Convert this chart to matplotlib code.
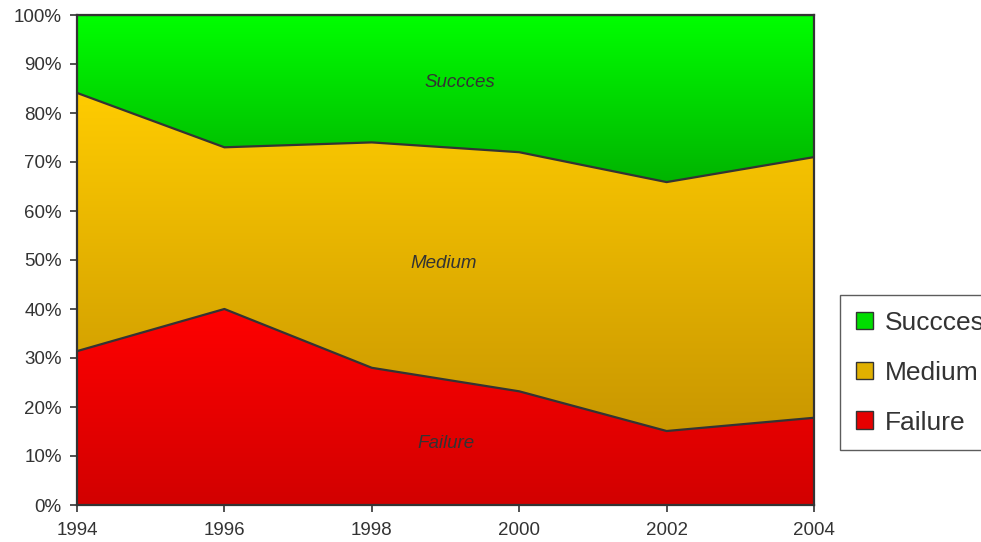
import numpy as np
import matplotlib
matplotlib.use("Agg")
import matplotlib.pyplot as plt
from matplotlib.colors import LinearSegmentedColormap
from matplotlib.patches import Patch

plt.rcParams['font.family'] = ['Liberation Sans', 'DejaVu Sans']

years = [1994, 1996, 1998, 2000, 2002, 2004]
failure = [31.4, 40.0, 28.0, 23.2, 15.1, 17.8]
medium = [52.7, 33.0, 46.0, 48.8, 50.8, 53.2]
success = [15.9, 27.0, 26.0, 28.0, 34.1, 29.0]

series_names = ["Failure", "Medium", "Succces"]
top_colors = ["#ff0000", "#ffcc00", "#00ff00"]
bottom_colors = ["#d20000", "#c99700", "#00b400"]
label_pos = [(1999.0, 12.5), (1998.98, 49.3), (1999.2, 86.3)]

ink = "#333333"

fig = plt.figure(figsize=(9.81, 5.42), dpi=100)
ax = fig.add_axes([77 / 981, 37 / 542, 737 / 981, 490 / 542])

x = np.array(years, dtype=float)
layers = [np.array(failure), np.array(medium), np.array(success)]
base = np.zeros_like(x)
for vals, name, ctop, cbot, (lx, ly) in zip(layers, series_names, top_colors,
                                             bottom_colors, label_pos):
    top = base + vals
    poly = ax.fill_between(x, base, top, facecolor="none", edgecolor="none")
    cmap = LinearSegmentedColormap.from_list(name, [cbot, ctop])
    ylo, yhi = base.min(), top.max()
    grad = np.linspace(0, 1, 256).reshape(-1, 1)
    im = ax.imshow(grad, cmap=cmap, aspect="auto", origin="lower",
                   extent=[x.min(), x.max(), ylo, yhi], zorder=1,
                   interpolation="bilinear")
    im.set_clip_path(poly.get_paths()[0], transform=ax.transData)
    ax.plot(x, top, color=ink, lw=1.6, zorder=3)
    ax.text(lx, ly, name, ha="center", va="center", fontsize=13.5,
            style="italic", color=ink, zorder=4)
    base = top

ax.set_xlim(1994, 2004)
ax.set_ylim(0, 100)
ax.set_xticks(years)
ax.set_yticks(np.arange(0, 101, 10))
ax.set_yticklabels([f"{v}%" for v in range(0, 101, 10)])
ax.tick_params(direction="out", length=5, width=1.2, colors=ink,
               labelsize=13.5, labelcolor=ink)
ax.tick_params(axis="x", pad=7)
ax.tick_params(axis="y", pad=6)
for sp in ax.spines.values():
    sp.set_color(ink)
    sp.set_linewidth(1.6)
    sp.set_zorder(5)

handles = [Patch(facecolor=c, edgecolor=ink, lw=1.0)
           for c in ["#00dd00", "#e0b000", "#e60000"]]
leg = fig.legend(handles, ["Succces", "Medium", "Failure"],
                 loc="upper left", bbox_to_anchor=(840 / 981, 1 - 295 / 542),
                 bbox_transform=fig.transFigure, fontsize=19, frameon=True,
                 fancybox=False, borderaxespad=0, handlelength=0.65,
                 handleheight=0.65, handletextpad=0.45, labelspacing=0.98,
                 borderpad=0.6)
leg.get_frame().set_edgecolor(ink)
leg.get_frame().set_linewidth(1.0)
for t in leg.get_texts():
    t.set_color(ink)

fig.savefig("out.png", dpi=100)
